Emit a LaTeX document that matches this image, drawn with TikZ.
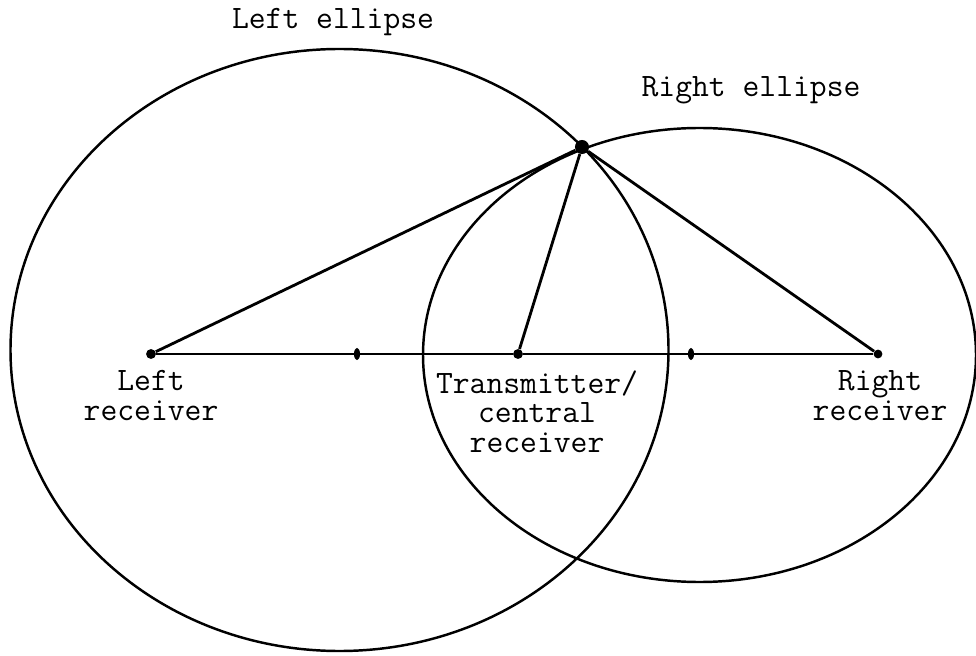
\documentclass[tikz,border=0pt]{standalone}
\usepackage{tikz}
\usetikzlibrary{shapes,positioning}

\begin{document}
\begin{tikzpicture}[
  punto/.style={circle, fill=black, inner sep=0pt, minimum size=5.6pt},
  marca/.style={ellipse, fill=black, inner sep=0pt, minimum width=3.4pt, minimum height=7pt},
  etiqueta/.style={font=\ttfamily\fontsize{18.6}{17}\selectfont, align=center, inner sep=0pt},
  linea/.style={line width=1.6pt}]
  \useasboundingbox (0,0) rectangle (19.52,13.1);
  % Elipses, receptores y transmisor
  \draw[line width=1.4pt] (6.79,6.10) ellipse (6.58 and 6.02);
  \draw[line width=1.4pt] (13.99,6.00) ellipse (5.53 and 4.54);

  \node[punto] (lrx) at (3.02,6.02) {};
  \node[marca] (lc) at (7.14,6.02) {};
  \node[punto] (tx) at (10.36,6.02) {};
  \node[marca] (rc) at (13.82,6.02) {};
  \node[punto, minimum size=5pt] (rrx) at (17.56,6.02) {};
  \node[punto, minimum size=8pt] (top) at (11.64,10.16) {};

  \draw[linea] (lrx) -- (lc) -- (tx) -- (rc) -- (rrx);
  \draw[linea] (top) -- (lrx);
  \draw[linea] (top) -- (tx);
  \draw[linea] (top) -- (rrx);

  \node[etiqueta] (lel) at (6.66,12.66) {Left ellipse};
  \node[etiqueta] (rel) at (15.02,11.30) {Right ellipse};
  \node[etiqueta, anchor=north] (lrxl) at (3.02,5.70) {Left\\receiver};
  \node[etiqueta, anchor=north] (txl) at (10.74,5.70) {Transmitter/\\central\\receiver};
  \node[etiqueta, anchor=north] (rrxl) at (17.60,5.70) {Right\\receiver};
\end{tikzpicture}
\end{document}
